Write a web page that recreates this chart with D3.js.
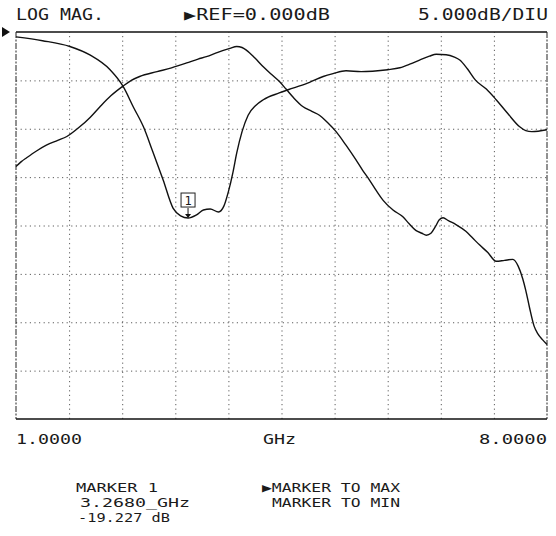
<!DOCTYPE html>
<html><head><meta charset="utf-8">
<script src="https://cdn.jsdelivr.net/npm/d3@7"></script>
<style>
html,body{margin:0;padding:0;background:#fff;}
svg{display:block;}
text{font-family:"DejaVu Sans Mono","Liberation Mono",monospace;fill:#1a1a1a;}
</style></head>
<body>
<script>
// ---- data ----
const freqA = [1.00,1.35,1.71,1.98,2.24,2.41,2.55,2.68,2.80,2.94,3.07,3.17,3.268,3.38,3.47,3.56,3.67,3.74,3.80,3.86,3.91,3.98,4.06,4.16,4.26,4.47,4.65,4.87,5.05,5.18,5.35,5.55,5.70,5.90,6.06,6.20,6.32,6.45,6.54,6.67,6.78,6.85,6.95,7.06,7.20,7.33,7.48,7.64,7.72,7.80,8.00];
const magA  = [-0.5,-0.9,-1.5,-2.4,-3.9,-5.6,-7.8,-9.8,-12.3,-15.3,-18.2,-19.0,-19.227,-18.9,-18.4,-18.3,-18.6,-18.0,-16.5,-14.5,-12.5,-10.3,-8.6,-7.6,-7.0,-6.3,-5.8,-5.2,-4.6,-4.3,-4.0,-4.1,-4.05,-3.9,-3.7,-3.3,-2.9,-2.5,-2.3,-2.35,-2.6,-2.9,-3.8,-5.0,-5.9,-7.0,-8.4,-9.8,-10.2,-10.3,-10.1];
const freqB = [1.00,1.07,1.14,1.27,1.40,1.55,1.67,1.84,1.98,2.11,2.25,2.41,2.52,2.63,2.86,3.05,3.25,3.40,3.51,3.66,3.82,3.91,3.98,4.04,4.15,4.26,4.37,4.47,4.56,4.66,4.78,4.90,5.00,5.10,5.22,5.35,5.48,5.57,5.66,5.75,5.84,5.97,6.10,6.18,6.27,6.35,6.41,6.47,6.53,6.58,6.63,6.70,6.80,6.93,7.02,7.11,7.22,7.33,7.44,7.55,7.62,7.68,7.72,7.77,7.83,7.88,7.94,8.00];
const magB  = [-13.9,-13.4,-13.0,-12.3,-11.7,-11.2,-10.8,-9.8,-8.8,-7.7,-6.6,-5.6,-5.0,-4.6,-4.1,-3.7,-3.2,-2.8,-2.55,-2.1,-1.7,-1.5,-1.6,-1.9,-2.7,-3.6,-4.4,-5.1,-5.9,-6.8,-7.7,-8.2,-8.6,-9.3,-10.3,-11.7,-13.2,-14.3,-15.3,-16.4,-17.4,-18.4,-19.1,-19.8,-20.5,-20.8,-21.0,-20.8,-20.1,-19.4,-19.2,-19.5,-19.9,-20.6,-21.3,-22.0,-22.8,-23.7,-23.6,-23.5,-24.2,-25.5,-26.7,-28.5,-30.4,-31.2,-31.8,-32.3];
const xGridTicks = [1.0,1.7,2.4,3.1,3.8,4.5,5.2,5.9,6.6,7.3,8.0];
const yGridTicks = [0,-5,-10,-15,-20,-25,-30,-35,-40];
const headerLabels = ["LOG MAG.", "\u25B6REF=0.000dB", "5.000dB/DIU"];
const axisLabels = ["1.0000", "GHz", "8.0000"];
const markerFreq = 3.268, markerDb = -19.227, markerLabel = "1";
const markerText = ["MARKER 1", "3.2680_GHz", "-19.227 dB"];
const menuText = ["\u25B6MARKER TO MAX", "MARKER TO MIN"];

// ---- layout ----
const W = 556, H = 536;
const L = 16, R = 547, T = 32, B = 419;
const svg = d3.select("body").append("svg").attr("width", W).attr("height", H);

const x = d3.scaleLinear().domain([1, 8]).range([L, R]);
const y = d3.scaleLinear().domain([0, -40]).range([T, B]);

// grid via axes
const gx = svg.append("g").attr("transform", `translate(0,${B})`)
  .call(d3.axisBottom(x).tickValues(xGridTicks.slice(1, -1)).tickSize(-(B - T)).tickFormat(""));
const gy = svg.append("g").attr("transform", `translate(${L},0)`)
  .call(d3.axisLeft(y).tickValues(yGridTicks.slice(1, -1)).tickSize(-(R - L)).tickFormat(""));
[gx, gy].forEach(g => {
  g.select(".domain").remove();
  g.selectAll(".tick line").attr("stroke", "#333").attr("stroke-width", 1)
    .attr("stroke-dasharray", "1.2,3.4").attr("opacity", 0.8);
});

// frame
svg.append("line").attr("x1", L).attr("x2", R).attr("y1", y(0)).attr("y2", y(0))
  .attr("stroke", "#111").attr("stroke-width", 1.6);
svg.append("line").attr("x1", L).attr("x2", R).attr("y1", y(-40)).attr("y2", y(-40))
  .attr("stroke", "#111").attr("stroke-width", 1.6);
[L, R].forEach(xx => svg.append("line").attr("x1", xx).attr("x2", xx).attr("y1", T).attr("y2", B)
  .attr("stroke", "#222").attr("stroke-width", 1).attr("stroke-dasharray", "6,1.5,2,1.5"));

// reference pointer
svg.append("path").attr("d", `M2,${y(0) - 5}L10,${y(0)}L2,${y(0) + 5}Z`).attr("fill", "#111");

// traces
const line = d3.line().x(d => x(d[0])).y(d => y(d[1])).curve(d3.curveMonotoneX);
[[freqA, magA], [freqB, magB]].forEach(([f, m]) => {
  svg.append("path").datum(f.map((v, i) => [v, m[i]])).attr("d", line)
    .attr("fill", "none").attr("stroke", "#111").attr("stroke-width", 1.4)
    .attr("stroke-linejoin", "round");
});

// marker
const mx = x(markerFreq), my = y(markerDb);
svg.append("path").attr("d", `M${mx - 3},${my - 4}L${mx + 3},${my - 4}L${mx},${my}Z`).attr("fill", "#111");
svg.append("line").attr("x1", mx).attr("x2", mx).attr("y1", my - 10).attr("y2", my - 4)
  .attr("stroke", "#111").attr("stroke-width", 1);
svg.append("rect").attr("x", mx - 7).attr("y", my - 25).attr("width", 14).attr("height", 14)
  .attr("fill", "#fff").attr("stroke", "#222").attr("stroke-width", 1);
svg.append("text").attr("x", mx).attr("y", my - 13.5).attr("text-anchor", "middle")
  .attr("font-size", 12).text(markerLabel);

// texts
function txt(s, x0, x1, yb, fs) {
  svg.append("text").attr("x", x0).attr("y", yb).attr("font-size", fs)
    .attr("textLength", x1 - x0).attr("lengthAdjust", "spacingAndGlyphs").text(s);
}
txt(headerLabels[0], 16, 104, 20, 15);
txt(headerLabels[1], 184, 330, 20, 15);
txt(headerLabels[2], 418, 548, 20, 15);

txt(axisLabels[0], 16, 82, 444, 14);
txt(axisLabels[1], 263, 296, 444, 14);
txt(axisLabels[2], 479, 547, 444, 14);

txt(markerText[0], 76, 158, 492, 12.5);
txt(markerText[1], 80, 190, 507, 12.5);
txt(markerText[2], 78, 170, 522, 12.5);
txt(menuText[0], 262, 400, 492, 12.5);
txt(menuText[1], 272, 400, 507, 12.5);
</script>
</body></html>
